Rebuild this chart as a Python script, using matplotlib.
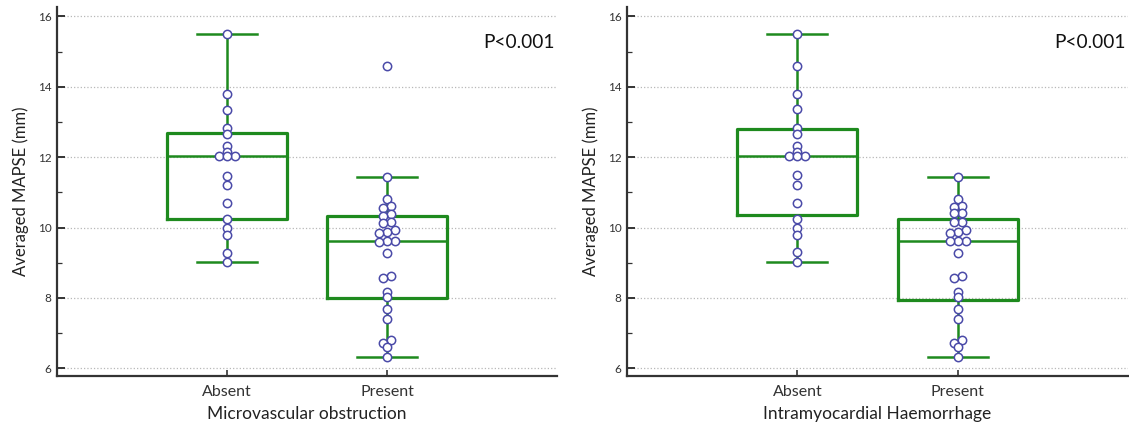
import numpy as np
import matplotlib
matplotlib.use("Agg")
import matplotlib.pyplot as plt
from matplotlib.ticker import MultipleLocator

plt.rcParams['font.family'] = ['Lato', 'DejaVu Sans']

# Values (mm)
groups = ['Absent', 'Present']

mvo_absent = [15.49, 13.81, 13.35, 12.82, 12.67, 12.32, 12.16, 12.04, 12.02, 12.04,
              11.47, 11.20, 10.69, 10.25, 9.98, 9.79, 9.29, 9.02]
mvo_present = [14.58, 11.43, 10.81, 10.62, 10.55, 10.38, 10.33, 10.17, 10.12, 9.94,
               9.86, 9.85, 9.62, 9.61, 9.60, 9.27, 8.62, 8.58, 8.17, 8.03,
               7.68, 7.40, 6.80, 6.72, 6.61, 6.32]
imh_absent = [15.49, 14.58, 13.81, 13.37, 12.83, 12.67, 12.32, 12.16, 12.04, 12.02,
              12.04, 11.50, 11.21, 10.71, 10.25, 10.00, 9.79, 9.30, 9.03]
imh_present = [11.45, 10.81, 10.60, 10.58, 10.41, 10.40, 10.16, 10.15, 9.94, 9.86,
               9.85, 9.63, 9.62, 9.61, 9.28, 8.62, 8.58, 8.17, 8.03, 7.68,
               7.40, 6.80, 6.72, 6.61, 6.32]

# box summaries as drawn in the reference: q1, median, q3, lower whisker, upper whisker
mvo_q1 = [10.25, 7.99]
mvo_med = [12.04, 9.62]
mvo_q3 = [12.69, 10.33]
mvo_lo = [9.02, 6.32]
mvo_hi = [15.49, 11.43]

imh_q1 = [10.36, 7.93]
imh_med = [12.04, 9.62]
imh_q3 = [12.80, 10.25]
imh_lo = [9.02, 6.32]
imh_hi = [15.49, 11.45]

x_labels = ['Microvascular obstruction', 'Intramyocardial Haemorrhage']
p_text = ['P<0.001', 'P<0.001']

GREEN = '#1e8a1e'
DOT = '#4a4aa8'
YLIM = (5.78, 16.27)
XLIM = (-0.0625, 3.0625)


def spread(values, step, tol=0.1):
    # points with (almost) the same value are laid out side by side
    order = np.argsort(values)[::-1]
    offs = np.zeros(len(values))
    grp = []
    for idx in list(order) + [None]:
        if idx is not None and grp and values[grp[0]] - values[idx] <= tol:
            grp.append(idx)
            continue
        if grp:
            g = sorted(grp, key=lambda k: values[k])
            n = len(g)
            for k, j in enumerate(g):
                offs[j] = (k - (n - 1) / 2) * step
        grp = [idx] if idx is not None else []
    return offs


fig = plt.figure(figsize=(11.29, 4.25), dpi=100)
ax1 = fig.add_axes([57 / 1129, 49 / 425, 500 / 1129, 369 / 425])
ax2 = fig.add_axes([627 / 1129, 49 / 425, 501 / 1129, 369 / 425])

panels = [
    (ax1, [mvo_absent, mvo_present], mvo_q1, mvo_med, mvo_q3, mvo_lo, mvo_hi, x_labels[0], p_text[0]),
    (ax2, [imh_absent, imh_present], imh_q1, imh_med, imh_q3, imh_lo, imh_hi, x_labels[1], p_text[1]),
]

for ax, data, q1, med, q3, lo, hi, xlab, ptxt in panels:
    stats = []
    for i in range(2):
        stats.append(dict(q1=q1[i], med=med[i], q3=q3[i], whislo=lo[i], whishi=hi[i], fliers=[]))
    ax.bxp(stats, positions=[1, 2], widths=0.75, showfliers=False,
           boxprops=dict(color=GREEN, linewidth=2.3),
           medianprops=dict(color=GREEN, linewidth=1.8),
           whiskerprops=dict(color=GREEN, linewidth=1.8),
           capprops=dict(color=GREEN, linewidth=1.8),
           capwidths=0.375, zorder=2)

    ax.set_xlim(*XLIM)
    ax.set_ylim(*YLIM)
    xs = 500 / (XLIM[1] - XLIM[0])  # pixels per x unit
    for i, vals in enumerate(data):
        offs = spread(np.array(vals), 8 / xs)
        ax.plot(np.full(len(vals), i + 1) + offs, vals, 'o', ms=6.0, mfc='white',
                mec=DOT, mew=1.1, zorder=3, clip_on=False)

    ax.yaxis.set_major_locator(MultipleLocator(2))
    ax.yaxis.set_minor_locator(MultipleLocator(1))
    ax.set_xticks([1, 2])
    ax.set_xticklabels(groups, fontsize=11.5, color='#222222')
    ax.tick_params(axis='y', which='major', direction='in', length=5.5, width=1.4,
                   labelsize=8.5, colors='#333333', pad=4)
    ax.tick_params(axis='y', which='minor', direction='in', length=3.5, width=0.9, colors='#333333')
    ax.tick_params(axis='x', direction='in', length=4.5, width=1.2, colors='#333333', pad=6.5)
    ax.grid(axis='y', which='major', linestyle=':', color='#b8b8b8', linewidth=0.9)
    ax.set_axisbelow(True)

    for s in ['top', 'right']:
        ax.spines[s].set_visible(False)
    for s in ['left', 'bottom']:
        ax.spines[s].set_linewidth(1.6)
        ax.spines[s].set_color('#333333')

    ax.set_ylabel('Averaged MAPSE (mm)', fontsize=12, color='#222222', labelpad=6)
    ax.set_xlabel(xlab, fontsize=12.5, color='#222222', labelpad=5)
    ax.text(0.996, 15.27, ptxt, transform=ax.get_yaxis_transform(), ha='right',
            va='center', fontsize=13.8, color='#111111')

fig.savefig('out.png', dpi=100)
